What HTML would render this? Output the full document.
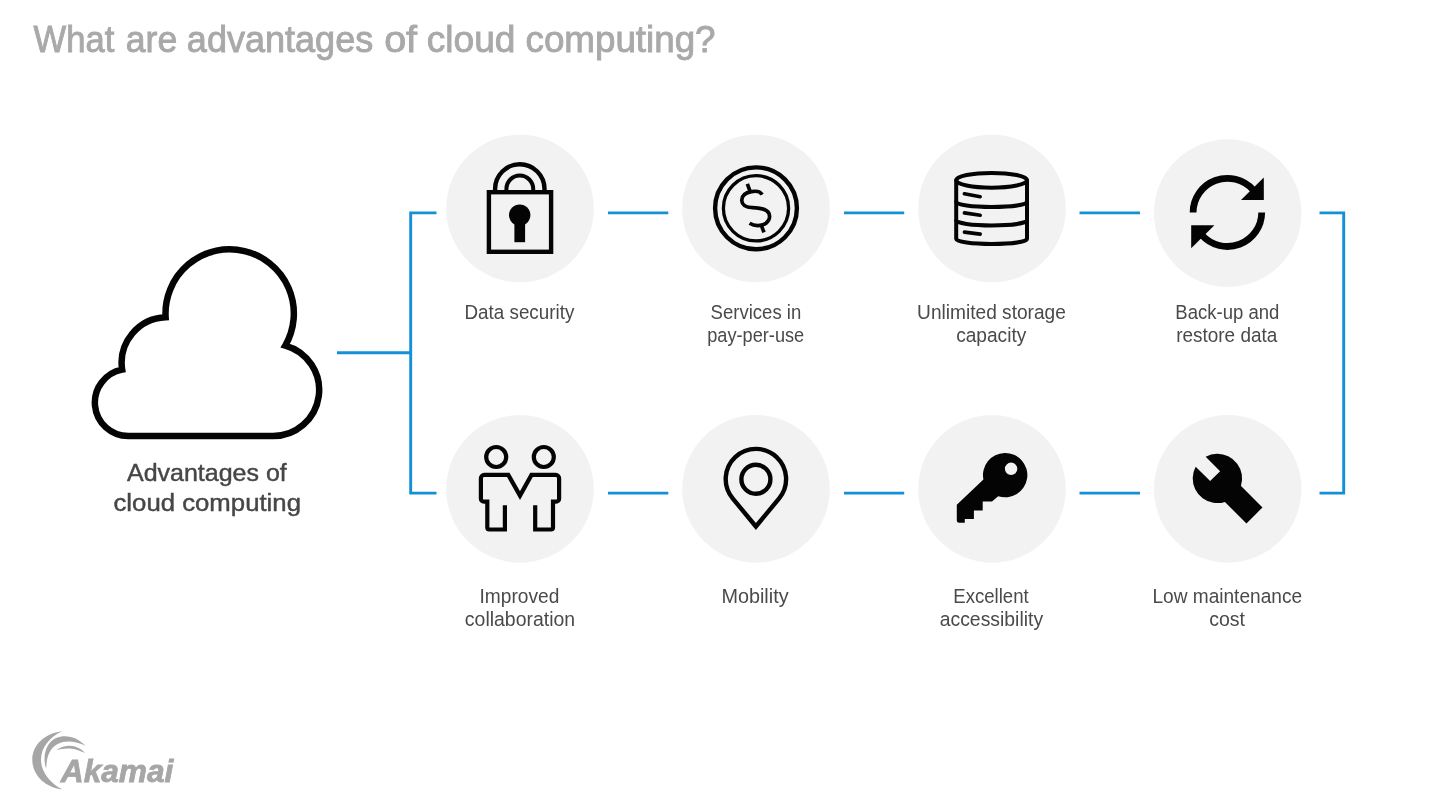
<!DOCTYPE html>
<html lang="en">
<head>
<meta charset="utf-8">
<title>What are advantages of cloud computing?</title>
<style>
html,body{margin:0;padding:0;background:#fff;}
body{width:1440px;height:810px;overflow:hidden;position:relative;font-family:"Liberation Sans",sans-serif;}
svg{position:absolute;left:0;top:0;display:block;will-change:transform;}
text{font-family:"Liberation Sans",sans-serif;}
.title{font-size:36.3px;fill:#a9a9a9;stroke:#a9a9a9;stroke-width:0.9px;}
.lbl{font-size:19.3px;fill:#4a4a4a;}
.big{font-size:24.8px;fill:#464646;stroke:#464646;stroke-width:0.45px;}
.logo{font-size:32px;stroke:#a6a6a6;stroke-width:0.8px;font-weight:bold;font-style:italic;fill:#a6a6a6;}
.ln{stroke:#1290d8;stroke-width:2.9;fill:none;}
.disc{fill:#f2f2f2;}
.ic{stroke:#040404;fill:none;}
.fl{fill:#040404;}
</style>
</head>
<body>
<svg width="1440" height="810" viewBox="0 0 1440 810">
<!-- title -->
<text class="title" y="52"><tspan x="33.60" textLength="80.68" lengthAdjust="spacingAndGlyphs">What</tspan> <tspan x="125.79" textLength="51.46" lengthAdjust="spacingAndGlyphs">are</tspan> <tspan x="186.87" textLength="186.35" lengthAdjust="spacingAndGlyphs">advantages</tspan> <tspan x="384.17" textLength="32.90" lengthAdjust="spacingAndGlyphs">of</tspan> <tspan x="426.84" textLength="88.64" lengthAdjust="spacingAndGlyphs">cloud</tspan> <tspan x="525.55" textLength="189.96" lengthAdjust="spacingAndGlyphs">computing?</tspan></text>

<!-- connectors -->
<g class="ln">
<path d="M337 352.7H410.7"/>
<path d="M436.5 212.9H410.7V493.1H436.5"/>
<path d="M608 212.9H668.3"/><path d="M844 212.9H904.2"/><path d="M1079.5 212.9H1140"/>
<path d="M608 493.1H668.3"/><path d="M844 493.1H904.2"/><path d="M1079.5 493.1H1140"/>
<path d="M1319.5 212.9H1343.7V493.1H1319.5"/>
</g>

<!-- discs -->
<g class="disc">
<circle cx="520" cy="208.5" r="73.8"/><circle cx="756" cy="208.5" r="73.8"/><circle cx="992" cy="208.5" r="73.8"/><circle cx="1227.7" cy="213.1" r="73.8"/>
<circle cx="520" cy="488.9" r="73.8"/><circle cx="756" cy="488.9" r="73.8"/><circle cx="992" cy="488.9" r="73.8"/><circle cx="1227.7" cy="488.9" r="73.8"/>
</g>

<!-- cloud -->
<path class="ic" stroke-width="6.5" stroke-linejoin="miter" d="M272.9 436.1H128.5A33.5 33.5 0 0 1 122.16 369.68A45.64 45.64 0 0 1 165.62 317.24A64.17 64.17 0 1 1 285.29 345.52A46.12 46.12 0 0 1 272.9 436.1Z"/>

<!-- lock -->
<g class="ic" stroke-width="4.4">
<rect x="488.9" y="192.2" width="62.2" height="59.6"/>
<path d="M495.1 192V189A24.7 24.7 0 0 1 544.5 189V192"/>
<path d="M506.4 192V189A13.4 13.4 0 0 1 533.2 189V192" stroke-width="4"/>
</g>
<circle class="fl" cx="519.7" cy="215.1" r="10.7"/>
<rect class="fl" x="514.4" y="218" width="10.7" height="24.2"/>

<!-- coin -->
<g class="ic">
<circle cx="756" cy="208.3" r="40.9" stroke-width="4.4"/>
<circle cx="756" cy="208.3" r="32.6" stroke-width="3.3"/>
<g transform="translate(706 163) scale(0.11111)" stroke-width="33" stroke-linecap="butt">
<path d="M505 285C490 258 450 250 410 258C350 268 320 300 322 340C325 385 370 400 420 402C480 405 540 410 565 450C585 495 560 540 510 556C470 568 425 562 392 542"/>
<path d="M372 188L397 255"/><path d="M498 562L522 625"/>
</g>
</g>

<!-- database -->
<g class="ic" stroke-width="4" stroke-linecap="round">
<ellipse cx="991.6" cy="180.3" rx="35.4" ry="7.4"/>
<path d="M956.2 180.3V239A35.4 5 0 0 0 1027 239V180.3"/>
<path d="M956.2 202A35.4 5 0 0 0 1027 202"/>
<path d="M956.2 220.4A35.4 5 0 0 0 1027 220.4"/>
<g stroke-width="3.6"><path d="M964.4 193.8L980.2 196.7"/><path d="M964.4 212.9L980.2 215.3"/><path d="M964.4 232.1L980.2 234.1"/></g>
</g>

<!-- refresh -->
<g class="ic" stroke-width="6.8">
<path d="M1193.1 212.4A34.3 34.3 0 0 1 1253 189.8"/>
<path d="M1261.7 212.4A34.3 34.3 0 0 1 1201.8 235"/>
</g>
<path class="fl" d="M1263.8 177.6V200H1241Z"/>
<path class="fl" d="M1191.2 248.2V225.3H1214.4Z"/>

<!-- people -->
<g class="ic" stroke-width="4.2">
<circle cx="496.2" cy="457" r="10"/><circle cx="543.8" cy="457" r="10"/>
<path stroke-linejoin="miter" d="M504.9 505.2V529.5H489.3A2 2 0 0 1 487.3 527.5V501.7H483.9A3 3 0 0 1 480.9 498.7V478.3A3.4 3.4 0 0 1 484.3 474.9H508.3L520 495.6L531.5 474.9H555.7A3.4 3.4 0 0 1 559.1 478.3V498.7A3 3 0 0 1 556.1 501.7H553V527.5A2 2 0 0 1 551 529.5H535.2V505.2"/>
</g>

<!-- pin -->
<g class="ic" stroke-width="4.4">
<path stroke-linejoin="miter" d="M755.9 526.5L732.63 498.34A30.2 30.2 0 1 1 779.17 498.34Z"/>
<circle cx="755.9" cy="479.3" r="14.5"/>
</g>

<!-- key -->
<path class="fl" fill-rule="evenodd" d="M983.4 479.5L956.8 504.8V520.2A2.5 2.5 0 0 0 959.3 522.7H964.8V519H973.9V510.4H982.7V501.5H992L998.2 496.2A22.2 22.2 0 1 0 983.4 479.5ZM1011.1 462.6A6.2 6.2 0 1 0 1011.1 475A6.2 6.2 0 1 0 1011.1 462.6Z"/>

<!-- wrench -->
<g transform="translate(1217.4 478.4) rotate(45)">
<path class="fl" d="M0 -11.35H52.4V11.35H0Z"/>
<path class="fl" d="M-3.2 -7.05V7.05H-23.67A24.7 24.7 0 1 0 -23.67 -7.05Z"/>
</g>

<!-- labels -->
<g class="lbl">
<text><tspan x="464.53" y="318.5" textLength="109.77" lengthAdjust="spacingAndGlyphs">Data security</tspan></text>
<text><tspan x="710.62" y="318.5" textLength="90.62" lengthAdjust="spacingAndGlyphs">Services in</tspan> <tspan x="707.26" y="342.2" textLength="96.97" lengthAdjust="spacingAndGlyphs">pay-per-use</tspan></text>
<text><tspan x="917.11" y="318.5" textLength="148.77" lengthAdjust="spacingAndGlyphs">Unlimited storage</tspan> <tspan x="956.20" y="342.2" textLength="70.10" lengthAdjust="spacingAndGlyphs">capacity</tspan></text>
<text><tspan x="1175.35" y="318.5" textLength="103.99" lengthAdjust="spacingAndGlyphs">Back-up and</tspan> <tspan x="1176.22" y="342.2" textLength="101.06" lengthAdjust="spacingAndGlyphs">restore data</tspan></text>
<text><tspan x="479.50" y="602.6" textLength="79.77" lengthAdjust="spacingAndGlyphs">Improved</tspan> <tspan x="464.89" y="626.3" textLength="110.20" lengthAdjust="spacingAndGlyphs">collaboration</tspan></text>
<text><tspan x="721.45" y="602.6" textLength="67.15" lengthAdjust="spacingAndGlyphs">Mobility</tspan></text>
<text><tspan x="953.25" y="602.6" textLength="75.39" lengthAdjust="spacingAndGlyphs">Excellent</tspan> <tspan x="939.69" y="626.3" textLength="103.41" lengthAdjust="spacingAndGlyphs">accessibility</tspan></text>
<text><tspan x="1152.41" y="602.6" textLength="149.67" lengthAdjust="spacingAndGlyphs">Low maintenance</tspan> <tspan x="1209.19" y="626.3" textLength="35.84" lengthAdjust="spacingAndGlyphs">cost</tspan></text>
</g>
<g class="big">
<text><tspan x="127.00" y="480.8" textLength="159.81" lengthAdjust="spacingAndGlyphs">Advantages of</tspan> <tspan x="113.50" y="510.9" textLength="187.45" lengthAdjust="spacingAndGlyphs">cloud computing</tspan></text>
</g>

<!-- logo -->
<g fill="#a6a6a6">
<path d="M62.2 731.2C45 733 32.3 745 32.3 759.6C32.3 775 45 787.5 62.2 789.4C50 783 41 772 41 759.6C41 747 50 737 62.2 731.2Z"/>
<path d="M45.7 767.5C42.5 755 46 743 56 738C66 733.5 78 737.5 85.5 745.8C77 741.5 66 739.5 57.5 744C49.5 748.5 46.5 757 46.3 767.5Z"/>
<path d="M56 750.3C62 746 69 745 74 746.3C79 747.5 82.5 750 84.8 753C80 750.5 76 749.2 72 748.7C66 748 61 748.8 56 750.3Z"/>
</g>
<text class="logo" x="60.79" y="782.3" textLength="112.61" lengthAdjust="spacingAndGlyphs">Akamai</text>
</svg>
</body>
</html>
